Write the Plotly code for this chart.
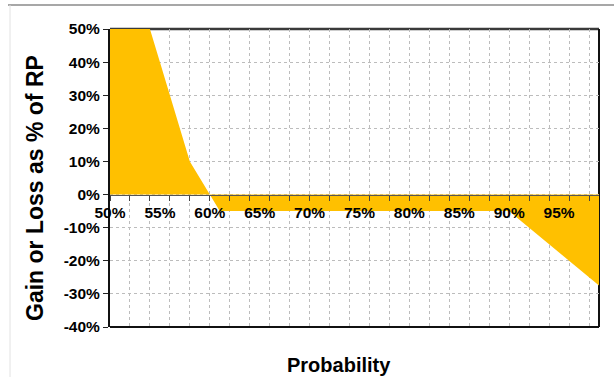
import plotly.graph_objects as go

# Data
probability = [0.50, 0.51, 0.52, 0.53, 0.54, 0.55, 0.56, 0.57, 0.58, 0.59,
               0.60, 0.61, 0.62, 0.63, 0.64, 0.65, 0.66, 0.67, 0.68, 0.69,
               0.70, 0.71, 0.72, 0.73, 0.74, 0.75, 0.76, 0.77, 0.78, 0.79,
               0.80, 0.81, 0.82, 0.83, 0.84, 0.85, 0.86, 0.87, 0.88, 0.89,
               0.90, 0.91, 0.92, 0.93, 0.94, 0.95, 0.96, 0.97, 0.98, 0.99]
gain_loss = [0.50, 0.50, 0.50, 0.50, 0.50, 0.40, 0.30, 0.20, 0.10, 0.05,
             0.00, -0.05, -0.05, -0.05, -0.05, -0.05, -0.05, -0.05, -0.05, -0.05,
             -0.05, -0.05, -0.05, -0.05, -0.05, -0.05, -0.05, -0.05, -0.05, -0.05,
             -0.05, -0.05, -0.05, -0.05, -0.05, -0.05, -0.05, -0.05, -0.05, -0.05,
             -0.05, -0.075, -0.10, -0.125, -0.15, -0.175, -0.20, -0.225, -0.25, -0.275]
x_label_vals = [0.50, 0.55, 0.60, 0.65, 0.70, 0.75, 0.80, 0.85, 0.90, 0.95]
x_label_text = ["50%", "55%", "60%", "65%", "70%", "75%", "80%", "85%", "90%", "95%"]
y_tick_vals = [-0.4, -0.3, -0.2, -0.1, 0.0, 0.1, 0.2, 0.3, 0.4, 0.5]
y_tick_text = ["-40%", "-30%", "-20%", "-10%", "0%", "10%", "20%", "30%", "40%", "50%"]

FILL = "#FFC000"
FONT = "Liberation Sans, Arial, sans-serif"

W, H = 614, 377
L, R, T, B = 110, 15, 29, 50
PW, PH = W - L - R, H - T - B

def px_x(p):
    return (p - L) / PW

def px_y(p):
    return (H - B - p) / PH

ymin, ymax = -0.4, 0.5
zero_pos = (0 - ymin) / (ymax - ymin)

fig = go.Figure()
fig.add_trace(go.Scatter(
    x=probability, y=gain_loss, mode="lines", fill="tozeroy",
    fillcolor=FILL, line=dict(width=0, color=FILL), hoverinfo="skip",
    showlegend=False,
))
# invisible trace to activate the label axis
fig.add_trace(go.Scatter(
    x=[probability[0]], y=[0], xaxis="x2", mode="markers",
    marker=dict(opacity=0), hoverinfo="skip", showlegend=False,
))

fig.update_layout(
    width=W, height=H,
    margin=dict(l=L, r=R, t=T, b=B),
    paper_bgcolor="white", plot_bgcolor="white",
    font=dict(family=FONT, color="black"),
    xaxis=dict(
        range=[probability[0], probability[-1]],
        dtick=0.02, tick0=0.5,
        showticklabels=False,
        ticks="outside", ticklen=5, tickwidth=1, tickcolor="#444",
        showgrid=True, gridcolor="#bcbcbc", griddash="dot", gridwidth=1,
        showline=True, linecolor="#555", linewidth=1,
        zeroline=False,
        anchor="free", position=zero_pos,
    ),
    xaxis2=dict(
        range=[probability[0], probability[-1]],
        overlaying="x",
        tickvals=x_label_vals, ticktext=x_label_text,
        ticks="outside", ticklen=4, tickcolor="rgba(0,0,0,0)",
        tickfont=dict(size=15.5, family=FONT, weight="bold", color="black"),
        showgrid=False, showline=False, zeroline=False,
        anchor="free", position=zero_pos, side="bottom",
    ),
    yaxis=dict(
        range=[ymin, ymax],
        tickvals=y_tick_vals, ticktext=y_tick_text,
        ticks="outside", ticklen=5, tickcolor="#222",
        tickfont=dict(size=15.5, family=FONT, weight="bold", color="black"),
        showgrid=True, gridcolor="#bcbcbc", griddash="dot", gridwidth=1,
        showline=True, linecolor="#111", linewidth=2,
        zeroline=False,
    ),
    shapes=[
        # plot-area border (drawn under the fill)
        dict(type="line", xref="paper", yref="paper", x0=0, x1=1, y0=1, y1=1,
             line=dict(color="#3a3a3a", width=2.5), layer="between"),
        dict(type="line", xref="paper", yref="paper", x0=1, x1=1, y0=0, y1=1,
             line=dict(color="#111", width=2), layer="between"),
        dict(type="line", xref="paper", yref="paper", x0=0, x1=1, y0=0, y1=0,
             line=dict(color="#111", width=2), layer="between"),
        # outer chart frame
        dict(type="line", xref="paper", yref="paper",
             x0=px_x(8), x1=px_x(W + 2), y0=px_y(5), y1=px_y(5),
             line=dict(color="#8a8a8a", width=1.5)),
        dict(type="line", xref="paper", yref="paper",
             x0=px_x(10), x1=px_x(10), y0=px_y(5), y1=px_y(H + 2),
             line=dict(color="#e2e2e2", width=1)),
    ],
    annotations=[
        dict(text="Gain or Loss as % of RP", xref="paper", yref="paper",
             x=px_x(35), y=px_y(188), textangle=-90, showarrow=False,
             font=dict(size=23, family=FONT, weight="bold", color="black"),
             xanchor="center", yanchor="middle"),
        dict(text="Probability", xref="paper", yref="paper",
             x=px_x(339), y=px_y(365), showarrow=False,
             font=dict(size=20, family=FONT, weight="bold", color="black"),
             xanchor="center", yanchor="middle"),
    ],
)

fig.write_html(
    "out.html",
    config={"displayModeBar": False},
    post_script="document.body.style.margin='0';document.body.style.padding='0';",
)
